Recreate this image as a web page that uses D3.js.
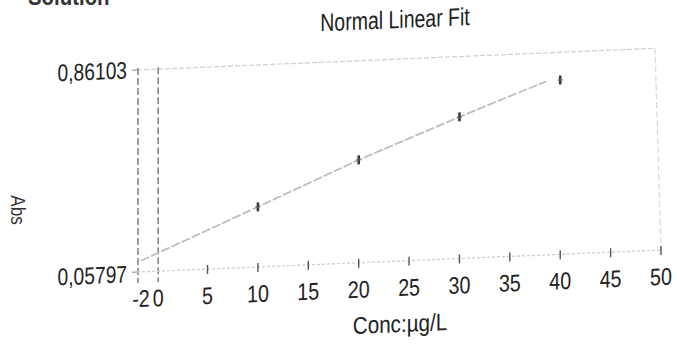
<!DOCTYPE html>
<html>
<head>
<meta charset="utf-8">
<script src="https://cdn.jsdelivr.net/npm/d3@7"></script>
<style>
  body { margin: 0; background: #fff; }
  svg { display: block; font-family: "Liberation Sans", Arial, sans-serif; }
</style>
</head>
<body>
<svg id="chart" width="677" height="358"></svg>
<script>
// calibration points (Conc µg/L -> Abs)
var concs = [10, 20, 30, 40];
var absVals = [0.297, 0.467, 0.621, 0.751];
// fit line as drawn on the print
var fitConc = [-1.6, 10, 20, 30, 38.6];
var fitAbs = [0.102, 0.297, 0.467, 0.621, 0.748];
var xTicks = [5, 10, 15, 20, 25, 30, 35, 40, 45, 50];
var xTickLabels = ["-2", "0", "5", "10", "15", "20", "25", "30", "35", "40", "45", "50"];
var xLabelVals = [-2, 0, 5, 10, 15, 20, 25, 30, 35, 40, 45, 50];
var yMin = 0.05797, yMax = 0.86103;
var yLabels = ["0,05797", "0,86103"];

var svg = d3.select("#chart");

// condensed text: the print uses a narrow face
function narrow(sel, px, py, size, sx) {
  return sel.append("text").attr("transform", "translate(" + px + "," + py + ") scale(" + sx + ",1)")
    .attr("font-size", size).attr("fill", "#222");
}

// partly cut off heading of the printout
narrow(svg, 28, 5, 24, 0.85).attr("font-weight", "bold").attr("fill", "#333").text("Solution");

// the photo is slightly sheared: lines rise to the right
var g = svg.append("g").attr("transform", "translate(138,0) skewY(-2.4) translate(-138,0)");

var x = d3.scaleLinear().domain([-2, 50]).range([137, 661]);
var y = d3.scaleLinear().domain([yMin, yMax]).range([272, 70]);

// frame: top and right, light dashed
g.append("line").attr("x1", x(-2)).attr("x2", x(50) - 6).attr("y1", y(yMax)).attr("y2", y(yMax))
  .attr("stroke", "#d2d2d2").attr("stroke-width", 1.3).attr("stroke-dasharray", "5,2");
g.append("line").attr("x1", x(50) - 6).attr("x2", x(50)).attr("y1", y(yMax)).attr("y2", y(yMin))
  .attr("stroke", "#d6d6d6").attr("stroke-width", 1.2).attr("stroke-dasharray", "6,3");

// two dashed verticals at -2 and 0
[-2, 0].forEach(function(v) {
  g.append("line").attr("x1", x(v) + 1).attr("x2", x(v) + 1).attr("y1", y(yMax) - 2).attr("y2", y(yMin) + 11)
    .attr("stroke", "#6a6a6a").attr("stroke-width", 1.3).attr("stroke-dasharray", "7,3");
});

// bottom axis
g.append("line").attr("x1", x(-2)).attr("x2", x(50)).attr("y1", y(yMin)).attr("y2", y(yMin))
  .attr("stroke", "#d8cccc").attr("stroke-width", 1.3).attr("stroke-dasharray", "3,2");
g.selectAll(".xt").data(xTicks).enter().append("line").attr("class", "xt")
  .attr("x1", d => x(d)).attr("x2", d => x(d)).attr("y1", y(yMin) - 4).attr("y2", y(yMin) + 5)
  .attr("stroke", "#555").attr("stroke-width", 1.4);

// small y ticks
[yMin, yMax].forEach(function(v) {
  g.append("line").attr("x1", x(-2) - 5).attr("x2", x(-2)).attr("y1", y(v)).attr("y2", y(v))
    .attr("stroke", "#888").attr("stroke-width", 1);
});

// fit line
var line = d3.line().x(d => x(d[0])).y(d => y(d[1]));
g.append("path").datum(d3.zip(fitConc, fitAbs)).attr("d", line)
  .attr("fill", "none").attr("stroke", "#bdbdbd").attr("stroke-width", 1.8).attr("stroke-dasharray", "9,2");

// data markers
var pts = g.selectAll(".pt").data(d3.zip(concs, absVals)).enter().append("g").attr("class", "pt")
  .attr("transform", d => "translate(" + x(d[0]) + "," + y(d[1]) + ")");
pts.append("line").attr("x1", 0).attr("x2", 0).attr("y1", -4.5).attr("y2", 4.5)
  .attr("stroke", "#3a3a3a").attr("stroke-width", 2.6);
pts.append("line").attr("x1", -2.5).attr("x2", 2.5).attr("y1", 0).attr("y2", 0)
  .attr("stroke", "#666").attr("stroke-width", 1.2);

// tick labels
xLabelVals.forEach(function(d, i) {
  var dx = i == 0 ? 4 : (i == 1 ? 1 : 0);
  narrow(g, x(d) + dx, y(yMin) + 35, 24, 0.82).attr("text-anchor", "middle").text(xTickLabels[i]);
});
[yMin, yMax].forEach(function(d, i) {
  narrow(g, x(-2) - 10, y(d) + 10 - i * 2, 24, 0.8).attr("text-anchor", "end").text(yLabels[i]);
});

// titles
narrow(g, 395, 39, 25, 0.78).attr("text-anchor", "middle").text("Normal  Linear Fit");
narrow(g, 400, 343, 24, 0.86).attr("text-anchor", "middle").text("Conc:µg/L");
svg.append("text").attr("transform", "translate(11,210) rotate(90) scale(0.85,1)").attr("text-anchor", "middle")
  .attr("font-size", 20).attr("fill", "#333").text("Abs");
</script>
</body>
</html>
